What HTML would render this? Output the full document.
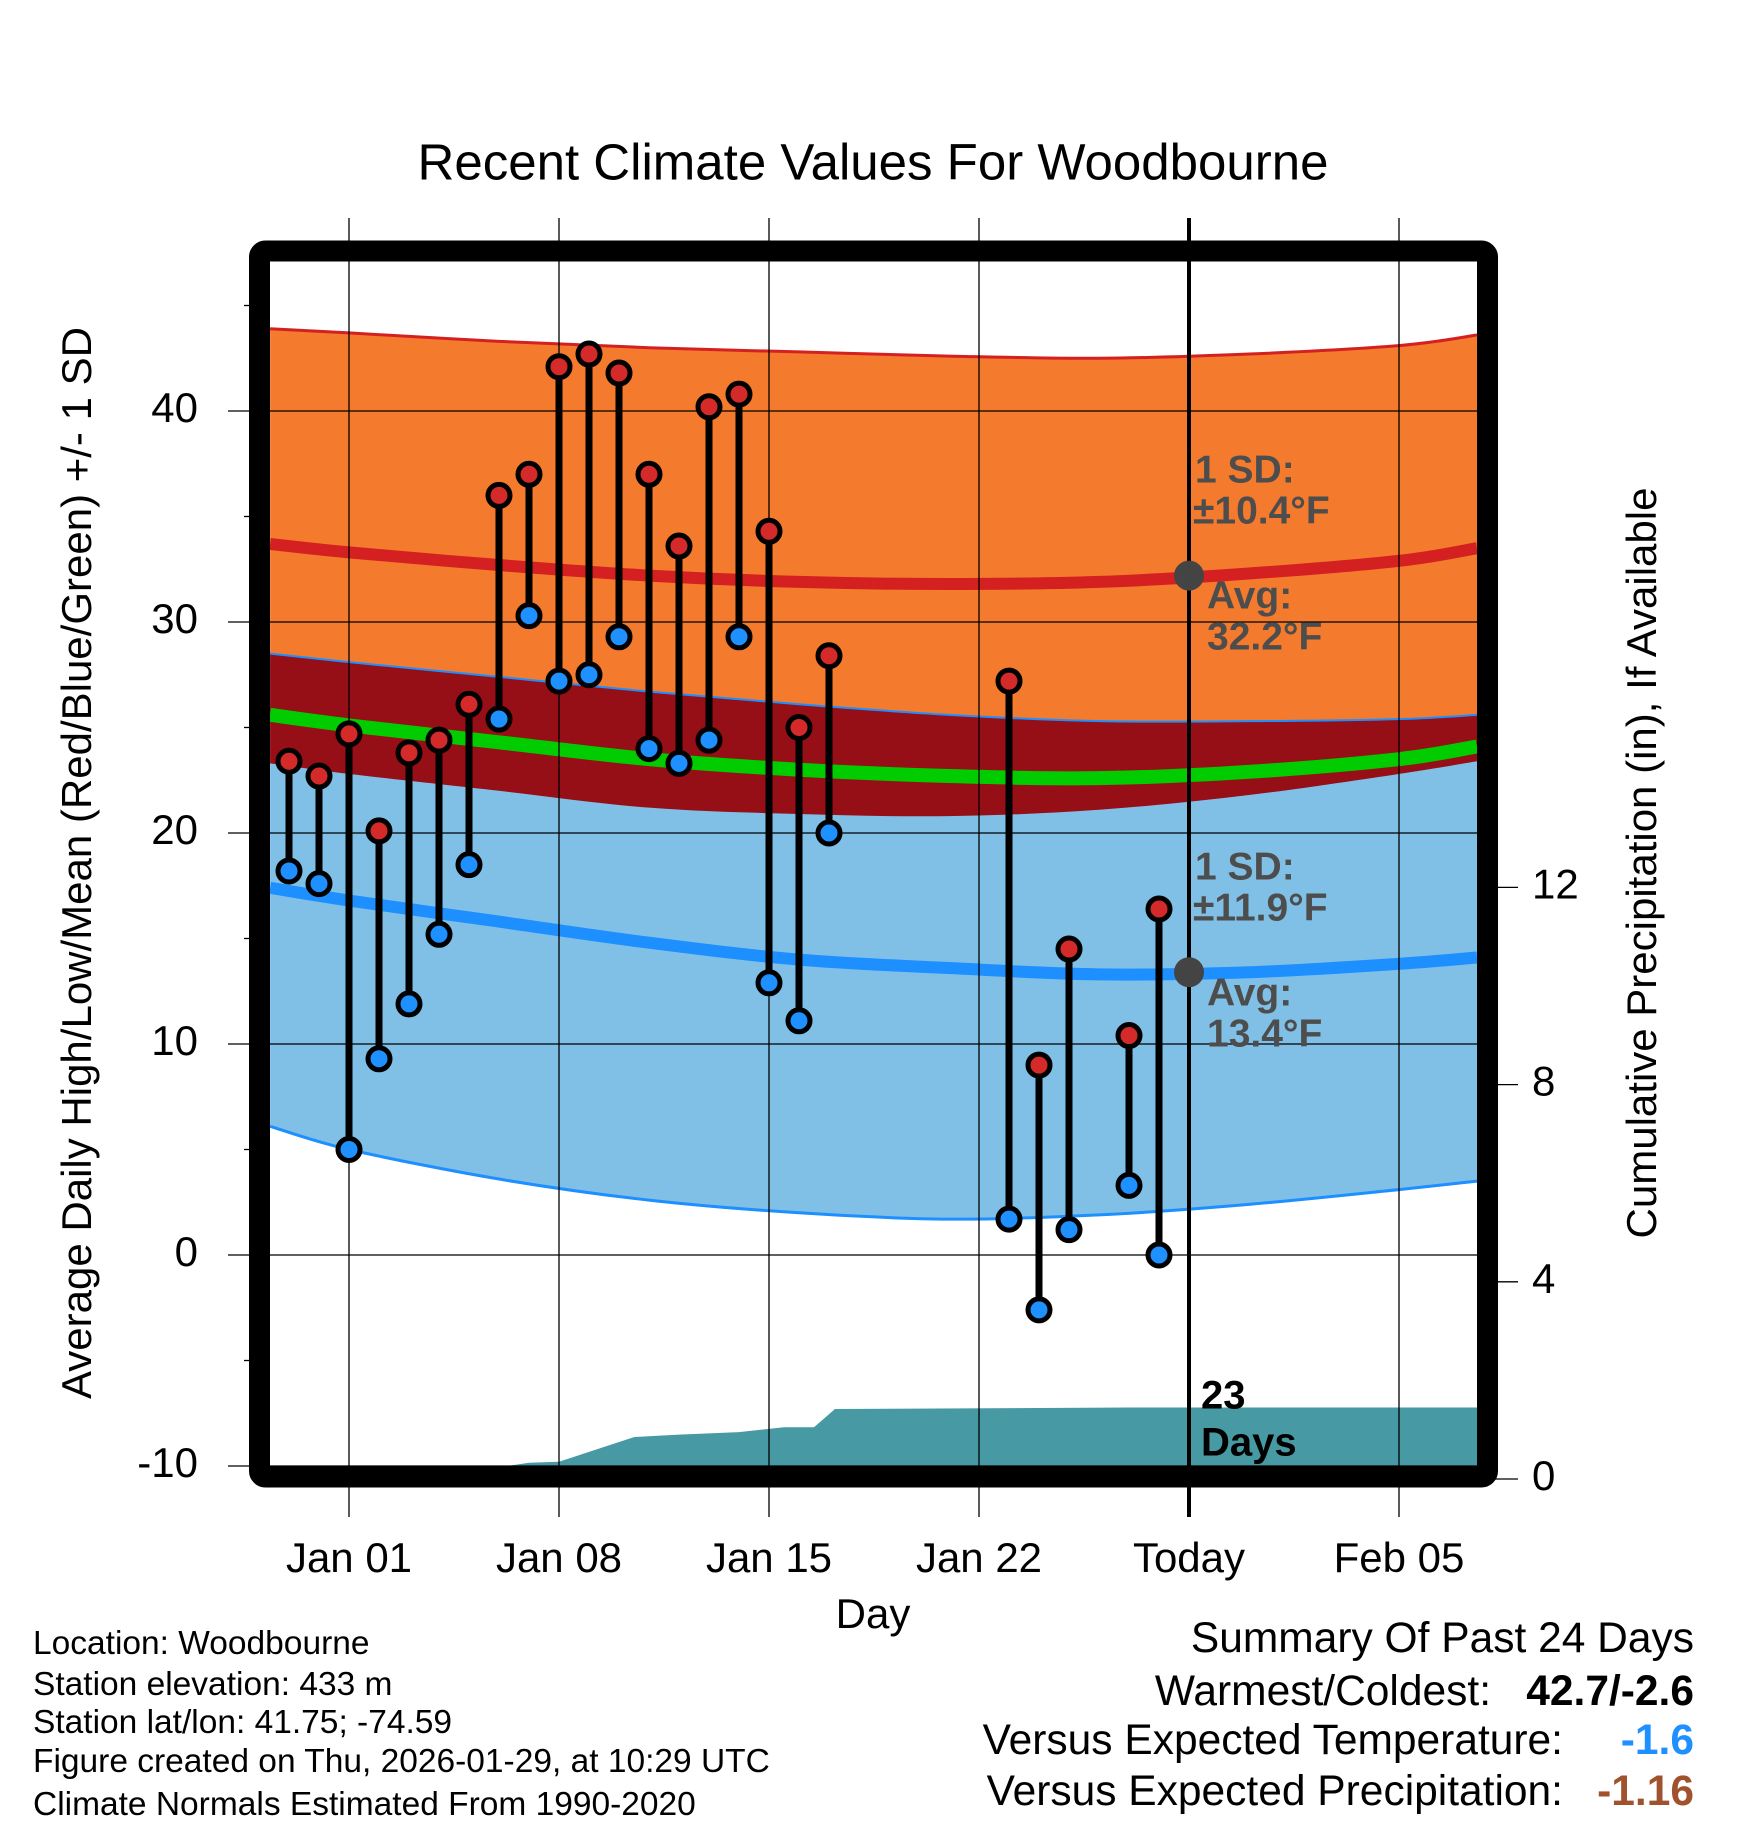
<!DOCTYPE html>
<html><head><meta charset="utf-8"><style>
body{margin:0;background:#fff}
svg text{font-family:"Liberation Sans",sans-serif}
</style></head><body>
<svg id="chart" width="1748" height="1828" viewBox="0 0 1748 1828" xmlns="http://www.w3.org/2000/svg">
<defs><clipPath id="plotclip"><rect x="270" y="261" width="1208" height="1207"/></clipPath></defs>
<g id="layers" clip-path="url(#plotclip)"></g>
<g id="over"></g>
</svg>
<script>
// ---- data ----
const normDays = [-2.63, 0, 5, 10, 15, 20, 25, 30, 35, 37.6];
const hiUpper = [43.9, 43.7, 43.3, 43.0, 42.8, 42.6, 42.5, 42.7, 43.1, 43.6];
const hiMean  = [33.7, 33.3, 32.7, 32.2, 31.9, 31.8, 31.9, 32.3, 32.9, 33.5];
const hiLower = [23.3, 22.8, 22.0, 21.2, 20.9, 20.8, 21.1, 21.8, 22.8, 23.4];
const loUpper = [28.5, 28.1, 27.4, 26.7, 26.1, 25.6, 25.3, 25.3, 25.4, 25.6];
const loMean  = [17.4, 16.8, 15.8, 14.8, 14.0, 13.6, 13.3, 13.4, 13.8, 14.1];
const loLower = [6.1, 5.0, 3.6, 2.6, 2.0, 1.7, 1.9, 2.4, 3.1, 3.5];
const avgMean = [25.6, 25.1, 24.3, 23.5, 23.0, 22.7, 22.6, 22.9, 23.5, 24.1];
const obsDays = [-2,-1,0,1,2,3,4,5,6,7,8,9,10,11,12,13,14,15,16,22,23,24,26,27];
const obsHigh = [23.4,22.7,24.7,20.1,23.8,24.4,26.1,36.0,37.0,42.1,42.7,41.8,37.0,33.6,40.2,40.8,34.3,25.0,28.4,27.2,9.0,14.5,10.4,16.4];
const obsLow  = [18.2,17.6,5.0,9.3,11.9,15.2,18.5,25.4,30.3,27.2,27.5,29.3,24.0,23.3,24.4,29.3,12.9,11.1,20.0,1.7,-2.6,1.2,3.3,0.0];
const precipDays = [-2.63, 3.5, 5, 6, 7, 8, 9.5, 11, 13, 14.5, 15.5, 16.2, 26, 37.6];
const precipVals = [0, 0.2, 0.24, 0.33, 0.35, 0.55, 0.85, 0.9, 0.95, 1.05, 1.05, 1.42, 1.45, 1.45];
const xTickDays = [0, 7, 14, 21, 28, 35];
const xTickLabels = ["Jan 01","Jan 08","Jan 15","Jan 22","Today","Feb 05"];
const yTicks = [-10, 0, 10, 20, 30, 40];
const pTicks = [0, 4, 8, 12];
const todayDay = 28;
const todayHiAvg = 32.2, todayLoAvg = 13.4;

// ---- axes ----
const X = d => 349 + d*30;
const Y = v => 1255 - v*21.1;
const P = v => 1479 - v*49.3;
const NS = "http://www.w3.org/2000/svg";
const layers = document.getElementById('layers');
const over = document.getElementById('over');
function mk(tag, attrs, parent){const e=document.createElementNS(NS,tag);for(const k in attrs)e.setAttribute(k,attrs[k]);parent.appendChild(e);return e;}
function linePts(arr){return normDays.map((d,i)=>[X(d),Y(arr[i])]);}
function smooth(pts){let s=`M${pts[0][0]},${pts[0][1]}`;for(let i=0;i<pts.length-1;i++){const p0=pts[Math.max(i-1,0)],p1=pts[i],p2=pts[i+1],p3=pts[Math.min(i+2,pts.length-1)];s+=` C${p1[0]+(p2[0]-p0[0])/6},${p1[1]+(p2[1]-p0[1])/6} ${p2[0]-(p3[0]-p1[0])/6},${p2[1]-(p3[1]-p1[1])/6} ${p2[0]},${p2[1]}`;}return s;}
function band(up, lo){const a=linePts(up), b=linePts(lo).reverse();return smooth(a)+' L'+smooth(b).slice(1)+' Z';}

let e;
e = mk('path',{d:band(hiUpper,hiLower),fill:'#f47a2d'},layers);


e = mk('path',{d:band(loUpper,loLower),fill:'#80c0e6'},layers);


e = mk('path',{d:band(loUpper,hiLower),fill:'#960e16'},layers);


e = mk('path',{d:smooth(linePts(hiUpper)),fill:'none',stroke:'#d42020','stroke-width':3},layers);


e = mk('path',{d:smooth(linePts(loUpper)),fill:'none',stroke:'#1e8fff','stroke-width':2},layers);


e = mk('path',{d:smooth(linePts(loLower)),fill:'none',stroke:'#1e8fff','stroke-width':3},layers);


e = mk('path',{d:smooth(linePts(hiMean)),fill:'none',stroke:'#d42020','stroke-width':12},layers);


e = mk('path',{d:smooth(linePts(loMean)),fill:'none',stroke:'#1e8fff','stroke-width':12},layers);


e = mk('path',{d:smooth(linePts(avgMean)),fill:'none',stroke:'#00cc00','stroke-width':14},layers);



// precip
let pd = `M${X(precipDays[0])},${P(0)}`;
precipDays.forEach((d,i)=>{pd+=` L${X(d)},${P(precipVals[i])}`;});
pd += ` L${X(precipDays[precipDays.length-1])},${P(0)} Z`;
e = mk('path',{d:pd,fill:'#4799a3'},layers);



// gridlines
yTicks.forEach(v=>{
  e = mk('line',{x1:228,x2:1478,y1:Y(v),y2:Y(v),stroke:'#000','stroke-width':1.3},over);
  
  
  e = mk('text',{x:198,y:Y(v),'font-size':42,'text-anchor':'end','dominant-baseline':'middle'},over);
  e.textContent = v;
  
  
});
[-5,5,15,25,35,45].forEach(v=>{
  e = mk('line',{x1:244,x2:260,y1:Y(v),y2:Y(v),stroke:'#000','stroke-width':1.3},over);
  
  
});
xTickDays.forEach((d,i)=>{
  e = mk('line',{x1:X(d),x2:X(d),y1:218,y2:1517,stroke:'#000','stroke-width':d===todayDay?4:1.3},over);
  
  
  e = mk('text',{x:X(d),y:1561,'font-size':42,'text-anchor':'middle','dominant-baseline':'middle'},over);
  e.textContent = xTickLabels[i];
  
  
});
pTicks.forEach(v=>{
  e = mk('line',{x1:1490,x2:1518,y1:P(v),y2:P(v),stroke:'#000','stroke-width':1.3},over);
  
  
  e = mk('text',{x:1532,y:P(v),'font-size':42,'dominant-baseline':'middle'},over);
  e.textContent = v;
  
  
});

// observations
obsDays.forEach((d,i)=>{
  e = mk('line',{x1:X(d),x2:X(d),y1:Y(obsHigh[i]),y2:Y(obsLow[i]),stroke:'#000','stroke-width':7},over);
  
  
});
obsDays.forEach((d,i)=>{
  e = mk('circle',{cx:X(d),cy:Y(obsHigh[i]),r:11,fill:'#d42a2a',stroke:'#000','stroke-width':5},over);
  
  
  e = mk('circle',{cx:X(d),cy:Y(obsLow[i]),r:11,fill:'#1e90ff',stroke:'#000','stroke-width':5},over);
  
  
});
e = mk('circle',{cx:X(todayDay),cy:Y(todayHiAvg),r:15,fill:'#444'},over);


e = mk('circle',{cx:X(todayDay),cy:Y(todayLoAvg),r:15,fill:'#444'},over);


</script>
<svg style="position:absolute;left:0;top:0" width="1748" height="1828" xmlns="http://www.w3.org/2000/svg">
<rect x="259.5" y="251" width="1228" height="1226" rx="6" fill="none" stroke="#000" stroke-width="21"/>
<text x="873" y="166" font-size="51" text-anchor="middle" dominant-baseline="middle">Recent Climate Values For Woodbourne</text>
<text x="873" y="1617" font-size="42" text-anchor="middle" dominant-baseline="middle">Day</text>
<text transform="translate(80,863) rotate(-90)" font-size="42" text-anchor="middle" dominant-baseline="middle">Average Daily High/Low/Mean (Red/Blue/Green) +/- 1 SD</text>
<text transform="translate(1645,863) rotate(-90)" font-size="42" text-anchor="middle" dominant-baseline="middle">Cumulative Precipitation (in), If Available</text>
<g font-weight="bold" fill="#4d4d4d" font-size="39">
<text x="1195" y="472" dominant-baseline="middle">1 SD:</text>
<text x="1193" y="513" dominant-baseline="middle">±10.4°F</text>
<text x="1207" y="598" dominant-baseline="middle">Avg:</text>
<text x="1207" y="639" dominant-baseline="middle">32.2°F</text>
<text x="1195" y="869" dominant-baseline="middle">1 SD:</text>
<text x="1193" y="910" dominant-baseline="middle">±11.9°F</text>
<text x="1207" y="995" dominant-baseline="middle">Avg:</text>
<text x="1207" y="1036" dominant-baseline="middle">13.4°F</text>
</g>
<g font-weight="bold" fill="#000" font-size="40">
<text x="1201" y="1398" dominant-baseline="middle">23</text>
<text x="1201" y="1445" dominant-baseline="middle">Days</text>
</g>
<g font-size="33.5" fill="#000">
<text x="33" y="1645" dominant-baseline="middle">Location: Woodbourne</text>
<text x="33" y="1686" dominant-baseline="middle">Station elevation: 433 m</text>
<text x="33" y="1724" dominant-baseline="middle">Station lat/lon: 41.75; -74.59</text>
<text x="33" y="1763" dominant-baseline="middle">Figure created on Thu, 2026-01-29, at 10:29 UTC</text>
<text x="33" y="1806" dominant-baseline="middle">Climate Normals Estimated From 1990-2020</text>
</g>
<g font-size="42.5" fill="#000">
<text x="1694" y="1641" text-anchor="end" dominant-baseline="middle">Summary Of Past 24 Days</text>
<text x="1491" y="1694" text-anchor="end" dominant-baseline="middle">Warmest/Coldest:</text>
<text x="1694" y="1694" text-anchor="end" dominant-baseline="middle" font-weight="bold">42.7/-2.6</text>
<text x="1563" y="1743" text-anchor="end" dominant-baseline="middle">Versus Expected Temperature:</text>
<text x="1694" y="1743" text-anchor="end" dominant-baseline="middle" font-weight="bold" fill="#1e90ff">-1.6</text>
<text x="1563" y="1794" text-anchor="end" dominant-baseline="middle">Versus Expected Precipitation:</text>
<text x="1694" y="1794" text-anchor="end" dominant-baseline="middle" font-weight="bold" fill="#a0522d">-1.16</text>
</g>
</svg>
</body></html>
